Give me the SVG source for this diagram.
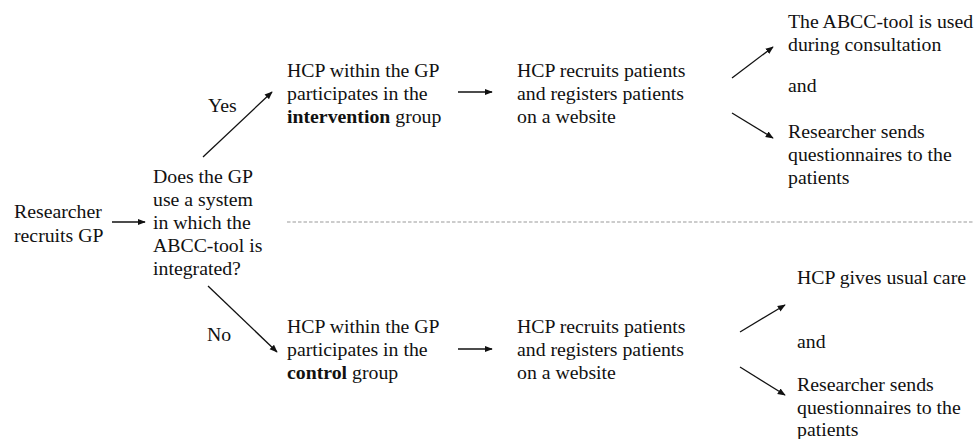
<svg xmlns="http://www.w3.org/2000/svg" width="974" height="439" viewBox="0 0 974 439">
<style>
.t{font-family:'Liberation Serif','Times New Roman',Tinos,'DejaVu Serif',serif;font-size:19.8px;fill:#111}
.c{stroke:#111;stroke-width:1.3;fill:none}
.d{stroke:#999;stroke-width:1.2;stroke-dasharray:3.5 2;fill:none}
</style>
<defs>
<marker id="ah" viewBox="0 0 10 10" refX="9" refY="5" markerWidth="8" markerHeight="8" markerUnits="userSpaceOnUse" orient="auto">
<path d="M0,1 L10,5 L0,9 z" fill="#111"/>
</marker>
</defs>
<rect width="974" height="439" fill="#fff"/>
<g id="connectors">
<line class="c" x1="112" y1="222" x2="145" y2="222" marker-end="url(#ah)"/>
<line class="c" x1="203" y1="157" x2="272" y2="92" marker-end="url(#ah)"/>
<line class="c" x1="208" y1="286" x2="277" y2="352" marker-end="url(#ah)"/>
<line class="c" x1="458" y1="92" x2="492" y2="92" marker-end="url(#ah)"/>
<line class="c" x1="458" y1="349" x2="492" y2="349" marker-end="url(#ah)"/>
<line class="c" x1="732" y1="78" x2="773" y2="47" marker-end="url(#ah)"/>
<line class="c" x1="732" y1="113" x2="773" y2="138" marker-end="url(#ah)"/>
<line class="c" x1="740" y1="332" x2="785" y2="305" marker-end="url(#ah)"/>
<line class="c" x1="740" y1="367" x2="785" y2="395" marker-end="url(#ah)"/>
<line class="d" x1="287" y1="222" x2="974" y2="222"/>
</g>
<g class="t" font-family="Liberation Serif, Times New Roman, serif">
<g id="start">
<text x="14" y="218">Researcher</text>
<text x="14" y="242">recruits GP</text>
</g>
<g id="question">
<text x="153" y="183">Does the GP</text>
<text x="153" y="206">use a system</text>
<text x="153" y="229">in which the</text>
<text x="153" y="252">ABCC-tool is</text>
<text x="153" y="275">integrated?</text>
</g>
<g id="yes-label"><text x="208" y="112">Yes</text></g>
<g id="no-label"><text x="207" y="341">No</text></g>
<g id="intervention">
<text x="287" y="77">HCP within the GP</text>
<text x="287" y="100">participates in the</text>
<text x="287" y="123"><tspan font-weight="bold">intervention</tspan> group</text>
</g>
<g id="recruit-top">
<text x="517" y="77">HCP recruits patients</text>
<text x="517" y="100">and registers patients</text>
<text x="517" y="123">on a website</text>
</g>
<g id="outcome-top">
<text x="788" y="28">The ABCC-tool is used</text>
<text x="788" y="51">during consultation</text>
<text x="788" y="92">and</text>
<text x="788" y="138">Researcher sends</text>
<text x="788" y="161">questionnaires to the</text>
<text x="788" y="184">patients</text>
</g>
<g id="control">
<text x="287" y="333">HCP within the GP</text>
<text x="287" y="356">participates in the</text>
<text x="287" y="379"><tspan font-weight="bold">control</tspan> group</text>
</g>
<g id="recruit-bottom">
<text x="517" y="333">HCP recruits patients</text>
<text x="517" y="356">and registers patients</text>
<text x="517" y="379">on a website</text>
</g>
<g id="outcome-bottom">
<text x="797" y="284">HCP gives usual care</text>
<text x="797" y="348">and</text>
<text x="797" y="391">Researcher sends</text>
<text x="797" y="414">questionnaires to the</text>
<text x="797" y="436">patients</text>
</g>
</g>
</svg>
